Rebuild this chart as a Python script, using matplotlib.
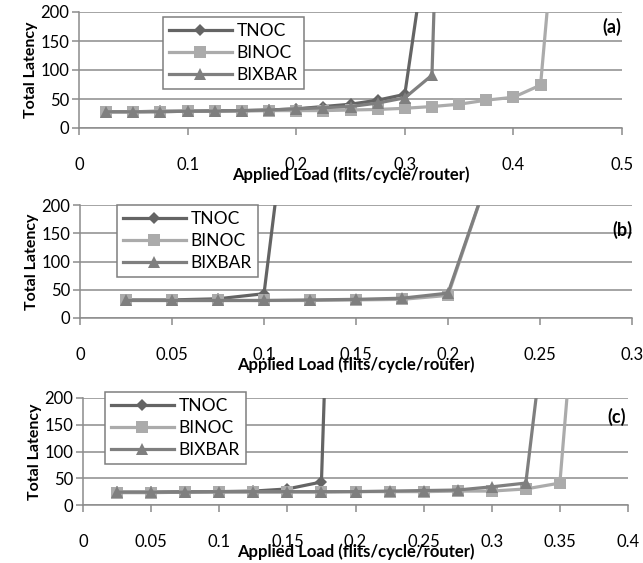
#!/usr/bin/env python3

'''
latency vs applied load, three panels (a), (b), (c)
'''

import matplotlib
matplotlib.use('Agg')
import matplotlib.pyplot as plt

plt.rcParams['font.family'] = ['Lato', 'DejaVu Sans']

seriesNames = ['TNOC', 'BINOC', 'BIXBAR']

# panel (a)
xA = [0.025, 0.05, 0.075, 0.1, 0.125, 0.15, 0.175, 0.2, 0.225, 0.25,
      0.275, 0.3, 0.325, 0.35, 0.375, 0.4, 0.425, 0.45]
tnocA = [28, 28, 29, 29, 30, 30, 31, 33, 37, 41, 48, 58, 380]
binocA = [28, 28, 28, 29, 29, 29, 30, 30, 30, 31, 32, 34, 37, 41, 48, 53, 74, 600]
bixbarA = [28, 28, 28, 29, 29, 30, 31, 33, 35, 37, 43, 52, 91, 1600]
xticksA = [0, 0.1, 0.2, 0.3, 0.4, 0.5]
xtickLabelsA = ['0', '0.1', '0.2', '0.3', '0.4', '0.5']

# panel (b)
xB = [0.025, 0.05, 0.075, 0.1, 0.125, 0.15, 0.175, 0.2, 0.225]
tnocB = [32, 32, 34, 43, 700]
binocB = [31, 31, 31, 31, 31, 32, 33, 40, 280]
bixbarB = [31, 31, 31, 31, 32, 33, 35, 44, 280]
xticksB = [0, 0.05, 0.1, 0.15, 0.2, 0.25, 0.3]
xtickLabelsB = ['0', '0.05', '0.1', '0.15', '0.2', '0.25', '0.3']

# panel (c)
xC = [0.025, 0.05, 0.075, 0.1, 0.125, 0.15, 0.175, 0.2, 0.225, 0.25,
      0.275, 0.3, 0.325, 0.35, 0.375]
tnocC = [24, 24, 25, 25, 26, 30, 43, 2000]
binocC = [23, 23, 24, 24, 24, 24, 24, 25, 25, 25, 26, 26, 30, 41, 810]
bixbarC = [24, 24, 24, 25, 25, 25, 25, 25, 26, 27, 28, 34, 41, 570]
xticksC = [0, 0.05, 0.1, 0.15, 0.2, 0.25, 0.3, 0.35, 0.4]
xtickLabelsC = ['0', '0.05', '0.1', '0.15', '0.2', '0.25', '0.3', '0.35', '0.4']

yticks = [0, 50, 100, 150, 200]

W, H = 643, 563

# styles per series
colors = ['#646464', '#ababab', '#7f7f7f']
markers = ['D', 's', '^']
msizes = [6.5, 8, 8.5]

fig = plt.figure(figsize=(W/100, H/100), dpi=100)


def pxAxes(left, right, top, bottom):
    # axes from pixel box
    return fig.add_axes([left/W, 1-bottom/H, (right-left)/W, (bottom-top)/H])


def drawPanel(ax, x, ys, xticks, xlabels, tag, legPos, tagPos):
    for i, y in enumerate(ys):
        ax.plot(x[:len(y)], y, color=colors[i], marker=markers[i],
                markersize=msizes[i], linewidth=2.3, label=seriesNames[i],
                markeredgewidth=0)
    ax.set_xlim(xticks[0], xticks[-1])
    ax.set_ylim(0, 200)
    ax.set_xticks(xticks)
    ax.set_xticklabels(xlabels, fontsize=12)
    ax.set_yticks(yticks)
    ax.set_yticklabels([str(v) for v in yticks], fontsize=12)
    ax.grid(axis='y', color='#8c8c8c', linewidth=1.1)
    ax.set_axisbelow(True)
    for s in ['top', 'right']:
        ax.spines[s].set_visible(False)
    for s in ['left', 'bottom']:
        ax.spines[s].set_color('#8c8c8c')
        ax.spines[s].set_linewidth(1.1)
    ax.tick_params(axis='x', direction='out', length=5, color='#8c8c8c',
                   pad=16, width=1.1)
    ax.tick_params(axis='y', direction='out', length=5, color='#8c8c8c',
                   pad=2, width=1.1)
    ax.annotate('Applied Load (flits/cycle/router)', xy=(0.5, 0),
                xycoords='axes fraction', xytext=(0, -47),
                textcoords='offset pixels', ha='center', va='center',
                fontsize=12, fontweight='bold')
    ax.set_ylabel('Total Latency', fontsize=11.5, fontweight='bold', labelpad=2)
    fig.text(tagPos[0]/W, 1-tagPos[1]/H, tag, ha='center', va='center',
             fontsize=13, fontweight='bold')
    leg = ax.legend(loc='upper left', bbox_to_anchor=(legPos[0]/W, 1-legPos[1]/H),
                    bbox_transform=fig.transFigure, borderaxespad=0,
                    fontsize=12.5, handlelength=3.6, labelspacing=0.35,
                    fancybox=False, framealpha=1, edgecolor='#7f7f7f',
                    borderpad=0.35, handletextpad=0.3)
    leg.get_frame().set_linewidth(1.1)


axA = pxAxes(79, 622, 12, 128)
drawPanel(axA, xA, [tnocA, binocA, bixbarA], xticksA, xtickLabelsA,
          '(a)', (163, 17), (612, 27))

axB = pxAxes(80, 632, 205, 318)
drawPanel(axB, xB, [tnocB, binocB, bixbarB], xticksB, xtickLabelsB,
          '(b)', (117, 205), (622, 230))

axC = pxAxes(83, 628, 398, 505)
drawPanel(axC, xC, [tnocC, binocC, bixbarC], xticksC, xtickLabelsC,
          '(c)', (105, 392), (617, 417))

fig.savefig('out.png', dpi=100)
